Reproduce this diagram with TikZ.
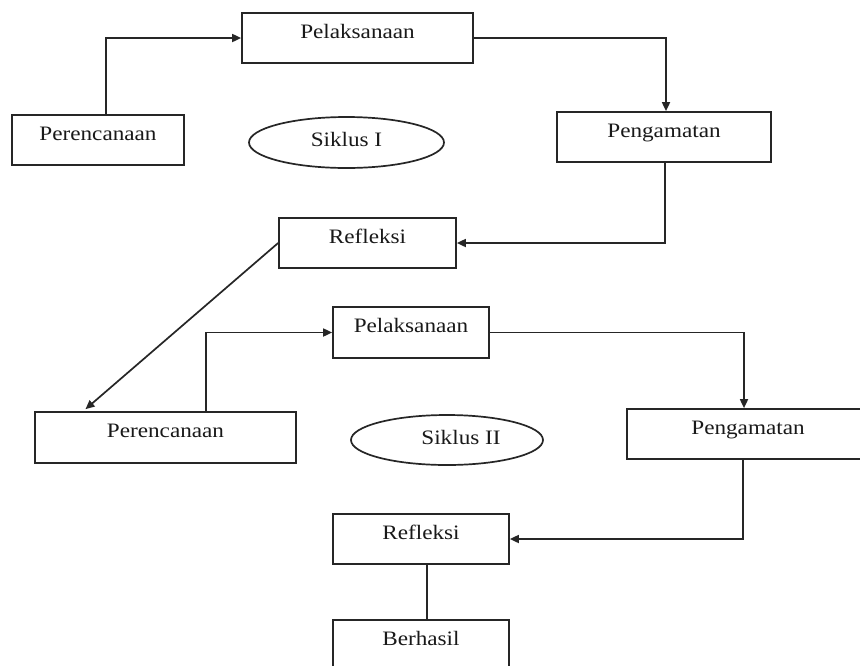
\documentclass[tikz,border=0pt]{standalone}
\usepackage{fontspec}
\setmainfont{Liberation Serif}[FakeStretch=1.13]
\usetikzlibrary{arrows.meta,shapes.geometric}
\tikzset{
  lbl/.style={font=\fontsize{20.5}{24}\selectfont, text=black!90},
  box/.style={lbl, draw=black!85, line width=1.7pt, rectangle, inner sep=0pt,
    text height=14pt, text depth=14pt},
  oval/.style={lbl, draw=black!85, line width=1.7pt, ellipse, inner sep=0pt,
    text height=14pt, text depth=6pt},
  arr/.style={draw=black!85, line width=1.7pt, -{Triangle[length=9pt,width=8pt]}},
  conn/.style={draw=black!85, line width=1.7pt}
}
\begin{document}
\begin{tikzpicture}[x=1pt,y=-1pt]
\useasboundingbox (0,0) rectangle (860,665);
\clip (0,0) rectangle (860,665);
\fill[white] (0,0) rectangle (860,665);
% Siklus I
\node[box, minimum width=231pt, minimum height=50pt] (p1) at (357.5,38) {Pelaksanaan};
\node[box, minimum width=172pt, minimum height=50pt] (r1) at (98,140) {Perencanaan};
\node[box, minimum width=214pt, minimum height=50pt] (g1) at (664,137) {Pengamatan};
\node[box, minimum width=177pt, minimum height=50pt] (f1) at (367.5,243) {Refleksi};
\node[oval, minimum width=195pt, minimum height=51pt] (e1) at (346.5,142.5) {Siklus I};
% Siklus II
\node[box, minimum width=156pt, minimum height=51pt] (p2) at (411,332.5) {Pelaksanaan};
\node[box, minimum width=261pt, minimum height=51pt] (r2) at (165.5,437.5) {Perencanaan};
\node[box, minimum width=242pt, minimum height=50pt] (g2) at (748,434) {Pengamatan};
\node[box, minimum width=176pt, minimum height=50pt] (f2) at (421,539) {Refleksi};
\node[box, minimum width=176pt, minimum height=50pt] (b) at (421,645) {Berhasil};
\node[oval, minimum width=192pt, minimum height=50pt] (e2) at (447,440) {\hspace*{28pt}Siklus II};
% connectors
\draw[arr] ([xshift=8pt]r1.north) |- (p1.west);
\draw[arr] (p1.east) -| ([xshift=2pt]g1.north);
\draw[arr] ([xshift=1pt]g1.south) |- (f1.east);
\draw[arr] (f1.west) -- ([xshift=-80pt,yshift=2pt]r2.north);
\draw[arr] ([xshift=40.5pt]r2.north) |- (p2.west);
\draw[arr] (p2.east) -| ([xshift=-4pt]g2.north);
\draw[arr] ([xshift=-5pt]g2.south) |- (f2.east);
\draw[conn] ([xshift=6pt]f2.south) -- ([xshift=6pt]b.north);
\end{tikzpicture}
\end{document}
